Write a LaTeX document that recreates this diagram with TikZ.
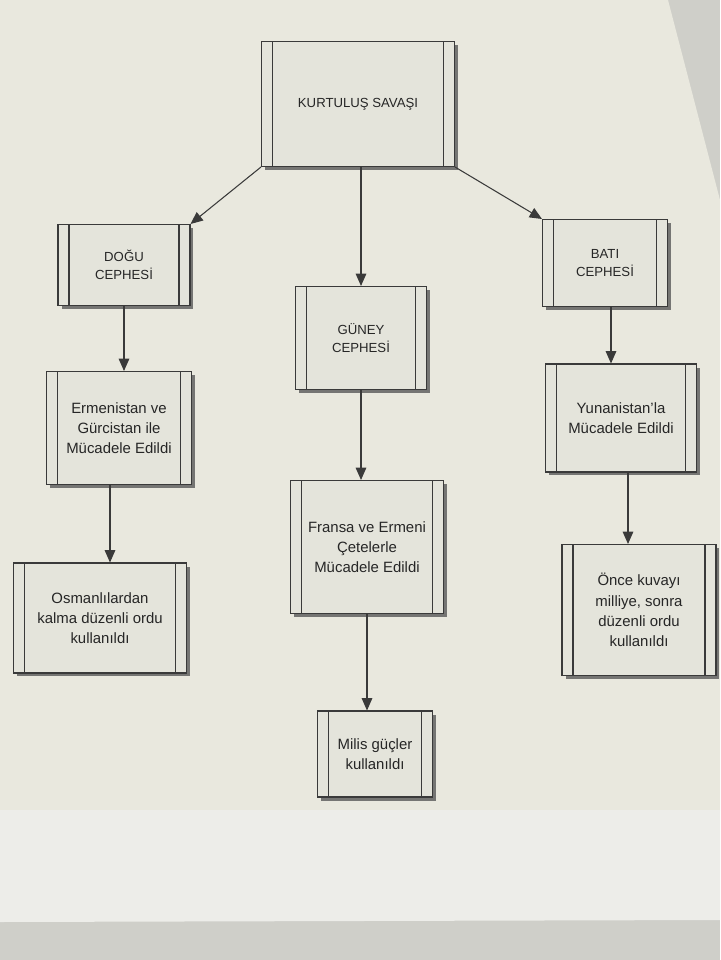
\documentclass[tikz,border=0pt]{standalone}
\usepackage{fontspec}
\setmainfont{Liberation Sans}
\usetikzlibrary{arrows.meta,shadows}
\definecolor{bgout}{HTML}{CFCFC9}
\definecolor{paper}{HTML}{E9E8DE}
\definecolor{paperlow}{HTML}{EDEDE9}
\definecolor{boxfill}{HTML}{E4E4DB}
\definecolor{ink}{HTML}{3A3A3A}
\tikzset{
  proc/.style={draw=ink, line width=0.6pt, fill=boxfill, align=center,
    text=black!85, font=\fontsize{8.5}{11.5}\selectfont,
    drop shadow={shadow xshift=0.07cm, shadow yshift=-0.07cm, fill=black!65, opacity=0.8},
    path picture={
      \draw[ink, line width=0.6pt] ([xshift=0.22cm]path picture bounding box.south west) -- ([xshift=0.22cm]path picture bounding box.north west);
      \draw[ink, line width=0.6pt] ([xshift=-0.22cm]path picture bounding box.south east) -- ([xshift=-0.22cm]path picture bounding box.north east);
    }},
  capsfont/.style={font=\fontsize{7.5}{10.5}\selectfont},
  conn/.style={draw=ink, line width=0.6pt, -{Triangle[width=6pt,length=7pt]}}
}
\begin{document}
\begin{tikzpicture}[x=0.02cm,y=-0.02cm]
\useasboundingbox (0,0) rectangle (720,960);
\fill[bgout] (0,0) rectangle (720,960);
\fill[paper] (0,0) -- (668,0) -- (720,200) -- (720,810) -- (0,810) -- cycle;
\fill[paperlow] (0,810) -- (720,810) -- (720,920) -- (0,922) -- cycle;

\node[proc, capsfont, minimum width=3.86cm, minimum height=2.5cm] (kurt) at (358,104) {KURTULUŞ SAVAŞI};
\node[proc, capsfont, minimum width=2.64cm, minimum height=1.62cm] (dogu) at (124,265) {DOĞU\\CEPHESİ};
\node[proc, capsfont, minimum width=2.62cm, minimum height=2.06cm] (guney) at (361,338) {GÜNEY\\CEPHESİ};
\node[proc, capsfont, minimum width=2.5cm, minimum height=1.74cm] (bati) at (605,263) {BATI\\CEPHESİ};
\node[proc, minimum width=2.9cm, minimum height=2.26cm] (ermen) at (119,428) {Ermenistan ve\\Gürcistan ile\\Mücadele Edildi};
\node[proc, minimum width=3.06cm, minimum height=2.66cm] (fransa) at (367,547) {Fransa ve Ermeni\\Çetelerle\\Mücadele Edildi};
\node[proc, minimum width=3.02cm, minimum height=2.16cm] (yunan) at (621,418) {Yunanistan'la\\Mücadele Edildi};
\node[proc, minimum width=3.46cm, minimum height=2.2cm] (osman) at (100,618) {Osmanlılardan\\kalma düzenli ordu\\kullanıldı};
\node[proc, minimum width=3.08cm, minimum height=2.62cm] (once) at (639,610) {Önce kuvayı\\milliye, sonra\\düzenli ordu\\kullanıldı};
\node[proc, minimum width=2.3cm, minimum height=1.72cm] (milis) at (375,754) {Milis güçler\\kullanıldı};

\draw[conn] (kurt.south west) -- (dogu.north east);
\draw[conn] (guney.north |- kurt.south) -- (guney.north);
\draw[conn] (kurt.south east) -- (bati.north west);
\draw[conn] (dogu.south) -- (dogu.south |- ermen.north);
\draw[conn] ([xshift=-0.18cm]ermen.south) -- ([xshift=-0.18cm]ermen.south |- osman.north);
\draw[conn] (guney.south) -- (guney.south |- fransa.north);
\draw[conn] (fransa.south) -- (fransa.south |- milis.north);
\draw[conn] ([xshift=0.12cm]bati.south) -- ([xshift=0.12cm]bati.south |- yunan.north);
\draw[conn] ([xshift=0.14cm]yunan.south) -- ([xshift=0.14cm]yunan.south |- once.north);
\end{tikzpicture}
\end{document}
